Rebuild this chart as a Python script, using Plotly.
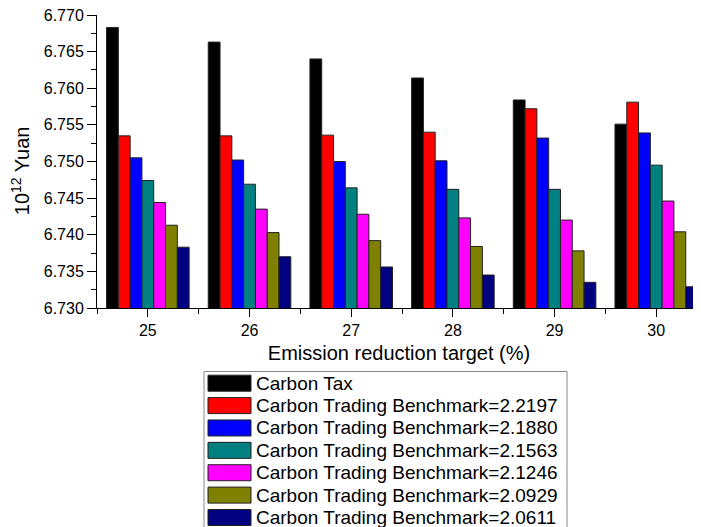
import plotly.graph_objects as go

targets = [25, 26, 27, 28, 29, 30]

names = ["Carbon Tax",
         "Carbon Trading Benchmark=2.2197",
         "Carbon Trading Benchmark=2.1880",
         "Carbon Trading Benchmark=2.1563",
         "Carbon Trading Benchmark=2.1246",
         "Carbon Trading Benchmark=2.0929",
         "Carbon Trading Benchmark=2.0611"]

colors = ["#000000", "#ff0000", "#0000ff", "#008080", "#ff00ff", "#808000", "#000080"]

carbon_tax = [6.7683, 6.7663, 6.7640, 6.7614, 6.7584, 6.7551]
bm_22197 = [6.7535, 6.7535, 6.7536, 6.7540, 6.7572, 6.7581]
bm_21880 = [6.7505, 6.7502, 6.7500, 6.7501, 6.7532, 6.7539]
bm_21563 = [6.7474, 6.7469, 6.7464, 6.7462, 6.7462, 6.7495]
bm_21246 = [6.7444, 6.7435, 6.7428, 6.7423, 6.7420, 6.7446]
bm_20929 = [6.7413, 6.7403, 6.7392, 6.7384, 6.7378, 6.7404]
bm_20611 = [6.7383, 6.7370, 6.7356, 6.7345, 6.7335, 6.7329]

series = [carbon_tax, bm_22197, bm_21880, bm_21563, bm_21246, bm_20929, bm_20611]

# the page body has an 8px margin, so the figure is drawn 8px smaller
OFF = 8
W, H = 701 - OFF, 527 - OFF
L, R, T, B = 97 - OFF, 0, 15 - OFF, 219.4
font = "Arial, Liberation Sans, sans-serif"

fig = go.Figure()
for name, col, vals in zip(names, colors, series):
    fig.add_trace(go.Bar(x=targets, y=vals, name=name, marker_color=col,
                         marker_line=dict(color="#222222", width=1),
                         showlegend=False))

# hand-drawn legend (wide swatches like the original); px/py take window pixels
pw, ph = W - L - R, H - T - B
px = lambda x: (x - OFF - L) / pw
py = lambda y: (H - B - (y - OFF)) / ph

shapes = [dict(type="rect", xref="paper", yref="paper",
               x0=px(204), x1=px(567), y0=py(371), y1=py(535),
               line=dict(color="#888888", width=1), fillcolor="white", layer="above")]
annotations = []
for i, (name, col) in enumerate(zip(names, colors)):
    cy = 382.7 + i * 22.35
    shapes.append(dict(type="rect", xref="paper", yref="paper",
                       x0=px(208), x1=px(251), y0=py(cy - 8), y1=py(cy + 8),
                       fillcolor=col, line=dict(color="#222222", width=1), layer="above"))
    annotations.append(dict(xref="paper", yref="paper", x=px(254), y=py(cy),
                            text=name, showarrow=False, xanchor="left", yanchor="middle",
                            font=dict(size=19, color="black", family=font)))

# y title sits a little below the middle of the axis in the original
annotations.append(dict(xref="paper", yref="paper", x=px(20), y=py(170),
                        text="10<sup>12</sup> Yuan", textangle=-90, showarrow=False,
                        xanchor="center", yanchor="middle",
                        font=dict(size=20, color="black", family=font)))

fig.update_layout(
    width=W, height=H,
    margin=dict(l=L, r=R, t=T, b=B, autoexpand=False),
    paper_bgcolor="white", plot_bgcolor="white",
    barmode="group", bargap=0.188, bargroupgap=0,
    font=dict(family=font, color="black"),
    shapes=shapes, annotations=annotations,
)
fig.update_xaxes(range=[24.5, 30.44], tickvals=targets, showline=True, linecolor="black",
                 linewidth=1, ticks="outside", ticklen=8, tickcolor="black", automargin=False,
                 minor=dict(dtick=0.5, tick0=24.5, ticks="outside", ticklen=5, tickcolor="black"),
                 showgrid=False, zeroline=False, tickfont=dict(size=16),
                 title=dict(text="Emission reduction target (%)", font=dict(size=20), standoff=7))
fig.update_yaxes(range=[6.730, 6.770], dtick=0.005, tickformat=".3f", showline=True,
                 linecolor="black", linewidth=1, ticks="outside", ticklen=9, tickcolor="black",
                 automargin=False, ticklabeloverflow="allow",
                 minor=dict(dtick=0.0025, ticks="outside", ticklen=5, tickcolor="black"),
                 showgrid=False, zeroline=False, tickfont=dict(size=16))

fig.write_html("out.html")
